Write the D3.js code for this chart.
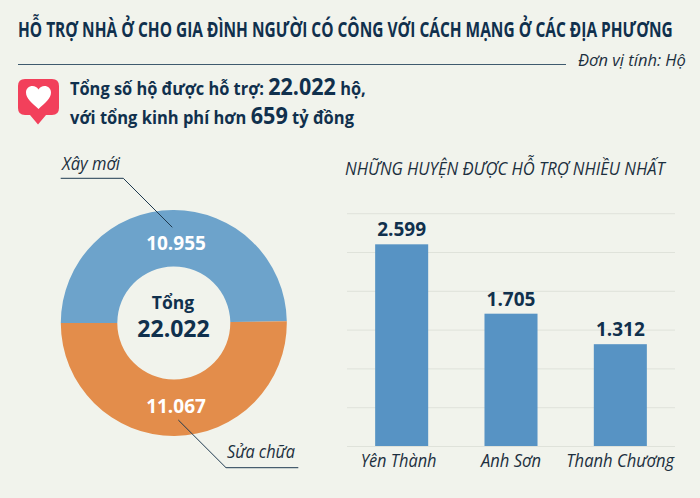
<!DOCTYPE html>
<html><head><meta charset="utf-8">
<script src="https://cdn.jsdelivr.net/npm/d3@7/dist/d3.min.js"></script>
<style>html,body{margin:0;padding:0;background:#f1f3ec}svg{display:block}text{font-family:"Open Sans","Noto Sans",sans-serif}</style>
</head><body><svg id="c" width="700" height="498"></svg>
<script>
const titleText = "HỖ TRỢ NHÀ Ở CHO GIA ĐÌNH NGƯỜI CÓ CÔNG VỚI CÁCH MẠNG Ở CÁC ĐỊA PHƯƠNG";
const unitText = "Đơn vị tính: Hộ";
const donutLabels = ["Xây mới", "Sửa chữa"];
const donutValues = [10955, 11067];
const donutColors = ["#6da3cb", "#e38d4b"];
const districts = ["Yên Thành", "Anh Sơn", "Thanh Chương"];
const districtValues = [2599, 1705, 1312];
const gridTicks = [0, 500, 1000, 1500, 2000, 2500, 3000];
const barTitle = "NHỮNG HUYỆN ĐƯỢC HỖ TRỢ NHIỀU NHẤT";
const fmt = v => d3.format(",")(v).replace(/,/g, ".");
const ink = "#10304d";

const svg = d3.select("#c");
svg.append("rect").attr("width",700).attr("height",498).attr("fill","#f1f3ec");

// squeeze a text horizontally to a given width, keeping the taller font size
function fit(t, px, py, w){
  const s = w / t.node().getComputedTextLength();
  return t.attr("transform",`translate(${px},${py}) scale(${s},1)`);
}

// header
fit(svg.append("text").attr("font-size",21).attr("font-weight",700).attr("fill",ink).text(titleText),18,37,655);
svg.append("line").attr("x1",18).attr("x2",566).attr("y1",64.5).attr("y2",64.5).attr("stroke","#3f5a6e").attr("stroke-width",1);
fit(svg.append("text").attr("font-size",16.5).attr("font-style","italic").attr("fill","#1c2f3e").text(unitText),578,66,108);

// icon
const icon = svg.append("g");
icon.append("path").attr("fill","#f2405b").attr("d","M25 79H52Q59 79 59 86V108Q59 115 52 115H46L38 124.5L30 115H25Q18 115 18 108V86Q18 79 25 79Z");
icon.append("path").attr("fill","#fff").attr("d","M38.5 109C32 103 26 98.500 26 92.500C26 88.500 29 86 32.500 86C35 86 37.300 87.200 38.500 89.500C39.700 87.200 42 86 44.500 86C48 86 51 88.500 51 92.500C51 98.500 45 103 38.500 109Z");

// summary
const s1 = svg.append("text").attr("font-size",17.5).attr("font-weight",700).attr("fill",ink);
s1.append("tspan").text("Tổng số hộ được hỗ trợ: ");
s1.append("tspan").attr("font-size",23).text("22.022");
s1.append("tspan").text(" hộ,");
fit(s1,70,95,296);
const s2 = svg.append("text").attr("font-size",17.5).attr("font-weight",700).attr("fill",ink);
s2.append("tspan").text("với tổng kinh phí hơn ");
s2.append("tspan").attr("font-size",23).text("659");
s2.append("tspan").text(" tỷ đồng");
fit(s2,70,124,284);

// donut
const donut = svg.append("g").attr("transform","translate(173.8,323)");
const pie = d3.pie().sort(null).startAngle(-Math.PI/2).endAngle(Math.PI*1.5);
const arc = d3.arc().innerRadius(56.5).outerRadius(113);
donut.selectAll("path").data(pie(donutValues)).join("path").attr("d",arc).attr("fill",(d,i)=>donutColors[i]);
const valueY = [250, 413];
donutValues.forEach((v,i)=>{
  svg.append("text").attr("x",176).attr("y",valueY[i]).attr("text-anchor","middle").attr("font-size",19).attr("font-weight",700).attr("fill","#fff").text(fmt(v));
});
svg.append("text").attr("x",173).attr("y",309).attr("text-anchor","middle").attr("font-size",17.5).attr("font-weight",700).attr("fill",ink).text("Tổng");
svg.append("text").attr("x",173.500).attr("y",337).attr("text-anchor","middle").attr("font-size",23).attr("font-weight",700).attr("fill",ink).text(fmt(d3.sum(donutValues)));

// leaders
const lead = [[[60.7,178.3],[123.3,178.3],[172.3,227.3]],[[178.3,420],[226,467.7],[298.3,467.7]]];
lead.forEach(p=>svg.append("path").attr("d",d3.line()(p)).attr("fill","none").attr("stroke","#1f3a50").attr("stroke-width",1));
fit(svg.append("text").attr("font-size",17.5).attr("font-style","italic").attr("fill","#1c2f3e").text(donutLabels[0]),62,170,58);
fit(svg.append("text").attr("font-size",17.5).attr("font-style","italic").attr("fill","#1c2f3e").text(donutLabels[1]),227,458,68);

// bars
const x = d3.scaleBand().domain(districts).range([347,675]).paddingInner(0.515).paddingOuter(0.2575);
const y = d3.scaleLinear().domain([0,3000]).range([446,213.2]);
const yAxis = d3.axisLeft(y).tickValues(gridTicks).tickSize(-328).tickFormat("");
const gy = svg.append("g").attr("transform","translate(347,0)").call(yAxis);
gy.select(".domain").remove();
gy.selectAll("line").attr("stroke","#dfe2da").attr("stroke-width",1);
svg.selectAll("rect.bar").data(districtValues).join("rect").attr("class","bar")
  .attr("x",(d,i)=>x(districts[i])).attr("width",x.bandwidth())
  .attr("y",d=>y(d)).attr("height",d=>y(0)-y(d)).attr("fill","#5793c4");
svg.selectAll("text.val").data(districtValues).join("text").attr("class","val")
  .attr("x",(d,i)=>x(districts[i])+x.bandwidth()/2).attr("y",d=>y(d)-8).attr("text-anchor","middle")
  .attr("font-size",19).attr("font-weight",700).attr("fill",ink).text(fmt);
const catWidth = [76, 60, 108], catShift = [-41, -30, -54];
districts.forEach((d,i)=>{
  fit(svg.append("text").attr("class","cat").attr("font-size",17.5).attr("font-style","italic").attr("fill","#1c2f3e").text(d),
    x(d)+x.bandwidth()/2+catShift[i],467,catWidth[i]);
});
fit(svg.append("text").attr("font-size",18).attr("font-style","italic").attr("fill","#1c2f3e").text(barTitle),345,175,320);
</script></body></html>
